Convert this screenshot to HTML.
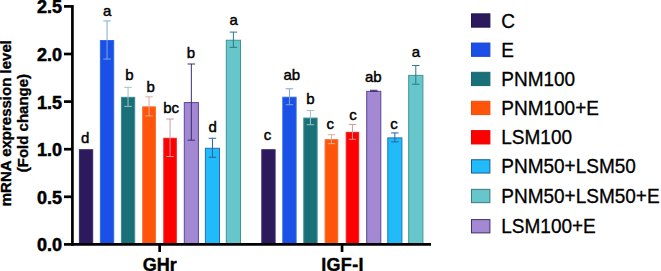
<!DOCTYPE html>
<html><head><meta charset="utf-8"><style>
html,body{margin:0;padding:0;background:#fff;}
svg{display:block;}
text{font-family:"Liberation Sans",sans-serif;}
.lbl{font-size:15px;fill:#000;stroke:#000;stroke-width:0.45px;}
.tk{font-size:18px;font-weight:bold;fill:#000;stroke:#000;stroke-width:0.5px;}
.xl{font-size:18px;font-weight:bold;fill:#000;stroke:#000;stroke-width:0.4px;}
.yt{font-size:15px;font-weight:bold;fill:#000;stroke:#000;stroke-width:0.35px;}
.lg{font-size:19px;fill:#000;stroke:#000;stroke-width:0.3px;}
</style></head><body>
<svg width="661" height="271" viewBox="0 0 661 271">
<rect width="661" height="271" fill="#fff"/>
<rect x="79.40" y="149.70" width="13.30" height="94.70" fill="#2c1a5c" stroke="#3a2a70" stroke-width="1"/>
<text x="81.10" y="142.55" class="lbl">d</text>
<rect x="100.40" y="40.51" width="13.30" height="203.89" fill="#1a50e6" stroke="#2a66ee" stroke-width="1"/>
<line x1="107.05" y1="20.97" x2="107.05" y2="59.05" stroke="#82a8d4" stroke-width="1.0"/>
<line x1="103.30" y1="20.97" x2="110.80" y2="20.97" stroke="#82a8d4" stroke-width="1.0"/>
<line x1="103.30" y1="59.05" x2="110.80" y2="59.05" stroke="#82a8d4" stroke-width="1.0"/>
<text x="103.06" y="15.85" class="lbl">a</text>
<rect x="121.40" y="97.34" width="13.30" height="147.06" fill="#1a7078" stroke="#3a8a90" stroke-width="1"/>
<line x1="128.05" y1="87.32" x2="128.05" y2="106.36" stroke="#9cc4c4" stroke-width="1.0"/>
<line x1="124.30" y1="87.32" x2="131.80" y2="87.32" stroke="#9cc4c4" stroke-width="1.0"/>
<line x1="124.30" y1="106.36" x2="131.80" y2="106.36" stroke="#9cc4c4" stroke-width="1.0"/>
<text x="125.21" y="79.75" class="lbl">b</text>
<rect x="142.70" y="106.86" width="12.70" height="137.54" fill="#ff550a" stroke="#ff6a28" stroke-width="1"/>
<line x1="149.05" y1="96.84" x2="149.05" y2="115.88" stroke="#d8aca0" stroke-width="1.0"/>
<line x1="145.30" y1="96.84" x2="152.80" y2="96.84" stroke="#d8aca0" stroke-width="1.0"/>
<line x1="145.30" y1="115.88" x2="152.80" y2="115.88" stroke="#d8aca0" stroke-width="1.0"/>
<text x="146.46" y="91.85" class="lbl">b</text>
<rect x="163.80" y="138.28" width="12.50" height="106.12" fill="#ff0000" stroke="#f02020" stroke-width="1"/>
<line x1="170.05" y1="119.02" x2="170.05" y2="156.53" stroke="#cc9c9c" stroke-width="1.0"/>
<line x1="166.30" y1="119.02" x2="173.80" y2="119.02" stroke="#cc9c9c" stroke-width="1.0"/>
<line x1="166.30" y1="156.53" x2="173.80" y2="156.53" stroke="#cc9c9c" stroke-width="1.0"/>
<text x="163.24" y="112.95" class="lbl">bc</text>
<rect x="184.30" y="102.58" width="14.10" height="141.82" fill="#a388d4" stroke="#58489a" stroke-width="1"/>
<line x1="191.35" y1="64.00" x2="191.35" y2="140.16" stroke="#3e2e72" stroke-width="1.0"/>
<line x1="187.60" y1="64.00" x2="195.10" y2="64.00" stroke="#3e2e72" stroke-width="1.0"/>
<line x1="187.60" y1="140.16" x2="195.10" y2="140.16" stroke="#3e2e72" stroke-width="1.0"/>
<text x="186.66" y="58.05" class="lbl">b</text>
<rect x="205.40" y="148.27" width="14.10" height="96.13" fill="#22bbf9" stroke="#1a74c0" stroke-width="1"/>
<line x1="212.45" y1="138.25" x2="212.45" y2="157.29" stroke="#2a60a8" stroke-width="1.0"/>
<line x1="208.70" y1="138.25" x2="216.20" y2="138.25" stroke="#2a60a8" stroke-width="1.0"/>
<line x1="208.70" y1="157.29" x2="216.20" y2="157.29" stroke="#2a60a8" stroke-width="1.0"/>
<text x="208.60" y="132.15" class="lbl">d</text>
<rect x="226.30" y="40.22" width="14.20" height="204.18" fill="#66c6cc" stroke="#3e9494" stroke-width="1"/>
<line x1="233.40" y1="32.10" x2="233.40" y2="47.34" stroke="#2a7a80" stroke-width="1.0"/>
<line x1="229.65" y1="32.10" x2="237.15" y2="32.10" stroke="#2a7a80" stroke-width="1.0"/>
<line x1="229.65" y1="47.34" x2="237.15" y2="47.34" stroke="#2a7a80" stroke-width="1.0"/>
<text x="229.56" y="24.55" class="lbl">a</text>
<rect x="261.80" y="149.70" width="13.30" height="94.70" fill="#2c1a5c" stroke="#3a2a70" stroke-width="1"/>
<text x="263.63" y="140.35" class="lbl">c</text>
<rect x="282.80" y="97.24" width="13.30" height="147.16" fill="#1a50e6" stroke="#2a66ee" stroke-width="1"/>
<line x1="289.45" y1="88.75" x2="289.45" y2="104.74" stroke="#82a8d4" stroke-width="1.0"/>
<line x1="285.70" y1="88.75" x2="293.20" y2="88.75" stroke="#82a8d4" stroke-width="1.0"/>
<line x1="285.70" y1="104.74" x2="293.20" y2="104.74" stroke="#82a8d4" stroke-width="1.0"/>
<text x="283.50" y="79.65" class="lbl">ab</text>
<rect x="303.80" y="118.09" width="13.30" height="126.31" fill="#1a7078" stroke="#3a8a90" stroke-width="1"/>
<line x1="310.45" y1="110.45" x2="310.45" y2="124.73" stroke="#9cc4c4" stroke-width="1.0"/>
<line x1="306.70" y1="110.45" x2="314.20" y2="110.45" stroke="#9cc4c4" stroke-width="1.0"/>
<line x1="306.70" y1="124.73" x2="314.20" y2="124.73" stroke="#9cc4c4" stroke-width="1.0"/>
<text x="306.16" y="104.05" class="lbl">b</text>
<rect x="325.10" y="139.70" width="12.70" height="104.70" fill="#ff550a" stroke="#ff6a28" stroke-width="1"/>
<line x1="331.45" y1="134.73" x2="331.45" y2="143.68" stroke="#d8aca0" stroke-width="1.0"/>
<line x1="327.70" y1="134.73" x2="335.20" y2="134.73" stroke="#d8aca0" stroke-width="1.0"/>
<line x1="327.70" y1="143.68" x2="335.20" y2="143.68" stroke="#d8aca0" stroke-width="1.0"/>
<text x="326.53" y="128.95" class="lbl">c</text>
<rect x="346.20" y="132.37" width="12.50" height="112.03" fill="#ff0000" stroke="#f02020" stroke-width="1"/>
<line x1="352.45" y1="124.45" x2="352.45" y2="139.30" stroke="#cc9c9c" stroke-width="1.0"/>
<line x1="348.70" y1="124.45" x2="356.20" y2="124.45" stroke="#cc9c9c" stroke-width="1.0"/>
<line x1="348.70" y1="139.30" x2="356.20" y2="139.30" stroke="#cc9c9c" stroke-width="1.0"/>
<text x="349.13" y="120.25" class="lbl">c</text>
<rect x="366.70" y="91.34" width="14.10" height="153.06" fill="#a388d4" stroke="#58489a" stroke-width="1"/>
<line x1="373.75" y1="90.27" x2="373.75" y2="91.41" stroke="#3e2e72" stroke-width="1.0"/>
<line x1="370.00" y1="90.27" x2="377.50" y2="90.27" stroke="#3e2e72" stroke-width="1.0"/>
<line x1="370.00" y1="91.41" x2="377.50" y2="91.41" stroke="#3e2e72" stroke-width="1.0"/>
<text x="364.90" y="82.05" class="lbl">ab</text>
<rect x="387.80" y="137.90" width="14.10" height="106.50" fill="#22bbf9" stroke="#1a74c0" stroke-width="1"/>
<line x1="394.85" y1="132.92" x2="394.85" y2="141.87" stroke="#2a60a8" stroke-width="1.0"/>
<line x1="391.10" y1="132.92" x2="398.60" y2="132.92" stroke="#2a60a8" stroke-width="1.0"/>
<line x1="391.10" y1="141.87" x2="398.60" y2="141.87" stroke="#2a60a8" stroke-width="1.0"/>
<text x="390.33" y="128.75" class="lbl">c</text>
<rect x="408.70" y="75.35" width="14.20" height="169.05" fill="#66c6cc" stroke="#3e9494" stroke-width="1"/>
<line x1="415.80" y1="65.52" x2="415.80" y2="84.18" stroke="#2a7a80" stroke-width="1.0"/>
<line x1="412.05" y1="65.52" x2="419.55" y2="65.52" stroke="#2a7a80" stroke-width="1.0"/>
<line x1="412.05" y1="84.18" x2="419.55" y2="84.18" stroke="#2a7a80" stroke-width="1.0"/>
<text x="411.71" y="57.25" class="lbl">a</text>
<line x1="72.4" y1="5.05" x2="72.4" y2="245.75" stroke="#000" stroke-width="2.7"/>
<line x1="71.05" y1="244.4" x2="431" y2="244.4" stroke="#000" stroke-width="2.7"/>
<line x1="64" y1="244.40" x2="72.4" y2="244.40" stroke="#000" stroke-width="2.7"/>
<text x="62.1" y="251.30" text-anchor="end" class="tk">0.0</text>
<line x1="64" y1="196.80" x2="72.4" y2="196.80" stroke="#000" stroke-width="2.7"/>
<text x="62.1" y="203.70" text-anchor="end" class="tk">0.5</text>
<line x1="64" y1="149.20" x2="72.4" y2="149.20" stroke="#000" stroke-width="2.7"/>
<text x="62.1" y="156.10" text-anchor="end" class="tk">1.0</text>
<line x1="64" y1="101.60" x2="72.4" y2="101.60" stroke="#000" stroke-width="2.7"/>
<text x="62.1" y="108.50" text-anchor="end" class="tk">1.5</text>
<line x1="64" y1="54.00" x2="72.4" y2="54.00" stroke="#000" stroke-width="2.7"/>
<text x="62.1" y="60.90" text-anchor="end" class="tk">2.0</text>
<line x1="64" y1="6.40" x2="72.4" y2="6.40" stroke="#000" stroke-width="2.7"/>
<text x="62.1" y="13.30" text-anchor="end" class="tk">2.5</text>
<line x1="159.65" y1="244.4" x2="159.65" y2="252" stroke="#000" stroke-width="2.7"/>
<line x1="342.05" y1="244.4" x2="342.05" y2="252" stroke="#000" stroke-width="2.7"/>
<text x="159.65" y="270.6" text-anchor="middle" class="xl">GHr</text>
<text x="342.50" y="270.5" text-anchor="middle" class="xl" letter-spacing="0.35">IGF-I</text>
<g transform="translate(10.8,123.2) rotate(-90)"><text x="0" y="0" text-anchor="middle" class="yt">mRNA expression level</text></g>
<g transform="translate(28.0,123.1) rotate(-90)"><text x="0" y="0" text-anchor="middle" class="yt">(Fold change)</text></g>
<rect x="471.5" y="13.85" width="18.4" height="13.3" fill="#2c1a5c" stroke="#221450" stroke-width="1"/>
<text transform="translate(501.3,27.50) scale(1,1.09)" class="lg">C</text>
<rect x="471.5" y="43.05" width="18.4" height="13.3" fill="#1a50e6" stroke="#1a48d0" stroke-width="1"/>
<text transform="translate(501.3,56.70) scale(1,1.09)" class="lg">E</text>
<rect x="471.5" y="72.30" width="18.4" height="13.3" fill="#1a7078" stroke="#186870" stroke-width="1"/>
<text transform="translate(501.3,85.95) scale(1,1.09)" class="lg">PNM100</text>
<rect x="471.5" y="101.30" width="18.4" height="13.3" fill="#ff550a" stroke="#f04c08" stroke-width="1"/>
<text transform="translate(501.3,114.95) scale(1,1.09)" class="lg">PNM100+E</text>
<rect x="471.5" y="130.65" width="18.4" height="13.3" fill="#ff0000" stroke="#e80000" stroke-width="1"/>
<text transform="translate(501.3,144.30) scale(1,1.09)" class="lg">LSM100</text>
<rect x="471.5" y="159.75" width="18.4" height="13.3" fill="#22bbf9" stroke="#1a5aa0" stroke-width="1"/>
<text transform="translate(501.3,173.40) scale(1,1.09)" class="lg">PNM50+LSM50</text>
<rect x="471.5" y="189.35" width="18.4" height="13.3" fill="#66c6cc" stroke="#3a7a7a" stroke-width="1"/>
<text transform="translate(501.3,203.00) scale(1,1.09)" class="lg">PNM50+LSM50+E</text>
<rect x="471.5" y="219.60" width="18.4" height="13.3" fill="#a388d4" stroke="#3c3068" stroke-width="1"/>
<text transform="translate(501.3,233.25) scale(1,1.09)" class="lg">LSM100+E</text>
</svg>
</body></html>
